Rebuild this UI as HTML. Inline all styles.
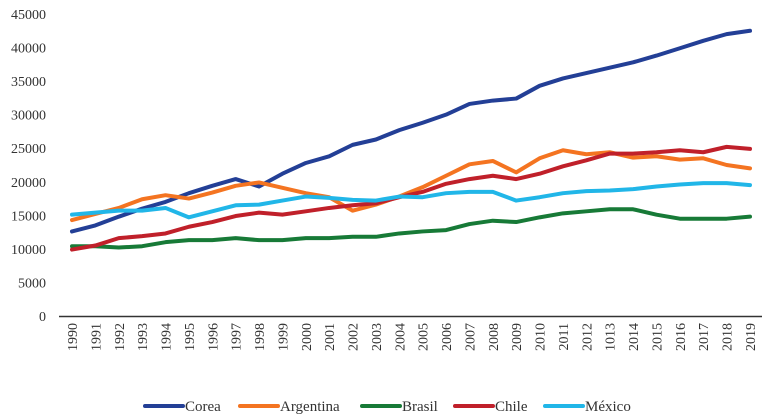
<!DOCTYPE html>
<html><head><meta charset="utf-8"><style>
body{margin:0;background:#fff}
svg{display:block;font-family:"Liberation Serif",serif}
</style></head><body>
<svg id="chart" width="765" height="420" viewBox="0 0 765 420"></svg>
<script>
const years=[];for(let y=1990;y<=2019;y++)years.push(y);
const yTicks=[0,5000,10000,15000,20000,25000,30000,35000,40000,45000];
const seriesNames=["Corea","Argentina","Brasil","Chile","México"];
const colors=["#233f96","#f47421","#177a37","#c0202a","#21b6e8"];
const corea=[12600,13500,14800,16000,17000,18300,19400,20400,19300,21200,22800,23800,25500,26300,27700,28800,30000,31600,32100,32400,34300,35400,36200,37000,37800,38800,39900,41000,42000,42500];
const argentina=[14300,15200,16100,17400,18000,17500,18400,19400,19900,19100,18300,17700,15700,16600,17800,19200,20900,22600,23100,21400,23500,24700,24100,24400,23600,23800,23300,23500,22500,22000];
const brasil=[10400,10400,10200,10400,11000,11300,11300,11600,11300,11300,11600,11600,11800,11800,12300,12600,12800,13700,14200,14000,14700,15300,15600,15900,15900,15100,14500,14500,14500,14800];
const chile=[9900,10500,11600,11900,12300,13300,14000,14900,15400,15100,15600,16100,16500,16800,17700,18500,19700,20400,20900,20400,21200,22300,23200,24200,24200,24400,24700,24400,25200,24900];
const mexico=[15100,15400,15700,15700,16100,14700,15600,16500,16600,17200,17800,17600,17300,17200,17800,17700,18300,18500,18500,17200,17700,18300,18600,18700,18900,19300,19600,19800,19800,19500];
const series=[corea,argentina,brasil,chile,mexico];
const xLabels=years.map(String);xLabels[23]="1013";

const NS="http://www.w3.org/2000/svg";
const svg=document.getElementById('chart');
const X0=72,X1=750,Y0=316,YMAX=45000,YTOP=14;
const x=i=>X0+(X1-X0)*i/(years.length-1);
const y=v=>Y0-(Y0-YTOP)*v/YMAX;
function mk(t,a){const e=document.createElementNS(NS,t);for(const k in a)e.setAttribute(k,a[k]);svg.appendChild(e);return e;}

yTicks.forEach(v=>{
 const t=mk('text',{x:46,y:y(v)+5,'text-anchor':'end','font-size':14,fill:'#333'});
 
 
 t.textContent=v;
});
const ax=mk('line',{x1:59,x2:762,y1:Y0+0.5,y2:Y0+0.5,stroke:'#333','stroke-width':1.5});


xLabels.forEach((lab,i)=>{
 const t=mk('text',{transform:`translate(${x(i)+5},${Y0+7}) rotate(-90)`,'text-anchor':'end','font-size':14,fill:'#333'});
 
 
 t.textContent=lab;
});
series.forEach((s,k)=>{
 const p=mk('polyline',{points:s.map((v,i)=>x(i)+','+y(v)).join(' '),fill:'none',stroke:colors[k],'stroke-width':4,'stroke-linejoin':'round','stroke-linecap':'round'});
 
 
});
const legX=[145,240,362,455,545];
seriesNames.forEach((n,k)=>{
 const l=mk('line',{x1:legX[k],x2:legX[k]+38,y1:406,y2:406,stroke:colors[k],'stroke-width':4,'stroke-linecap':'round'});
 
 
 const t=mk('text',{x:legX[k]+40,y:411,'font-size':15,fill:'#333'});
 
 
 t.textContent=n;
});
</script>
</body></html>
